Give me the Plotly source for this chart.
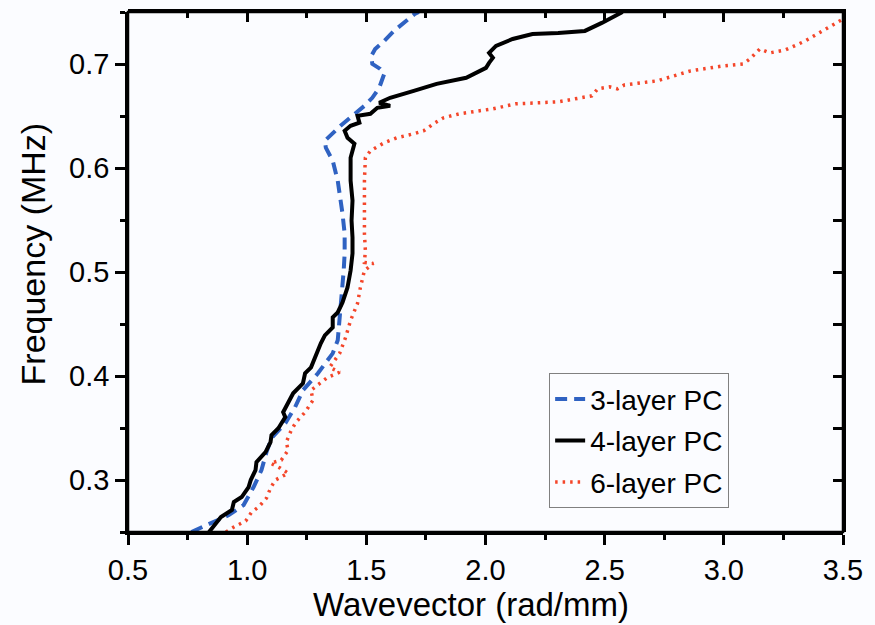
import plotly.graph_objects as go

# 3-layer PC (blue dashed)
k3 = [0.766, 0.853, 0.923, 0.985, 1.027, 1.060, 1.081, 1.102, 1.160, 1.201, 1.234, 1.297,
      1.359, 1.380, 1.388, 1.392, 1.400, 1.405, 1.409, 1.409, 1.400, 1.392, 1.380, 1.359,
      1.330, 1.326, 1.367, 1.392, 1.442, 1.492, 1.525, 1.554, 1.575, 1.558, 1.525, 1.521,
      1.537, 1.575, 1.616, 1.703, 1.720]
f3 = [0.250, 0.2586, 0.2663, 0.2759, 0.2932, 0.3095, 0.3268, 0.3402, 0.3546, 0.3700, 0.3863, 0.4026,
      0.4218, 0.4343, 0.4535, 0.4698, 0.4851, 0.5014, 0.5178, 0.5369, 0.5561, 0.5686, 0.5878, 0.6070,
      0.6195, 0.6262, 0.6358, 0.6406, 0.6502, 0.6598, 0.6675, 0.6771, 0.6905, 0.6953, 0.7001, 0.7078,
      0.7145, 0.7222, 0.7318, 0.7481, 0.750]

# 4-layer PC (black solid)
k4 = [0.840, 0.869, 0.890, 0.936, 0.944, 0.977, 1.006, 1.015, 1.035, 1.039, 1.077, 1.098,
      1.102, 1.131, 1.160, 1.151, 1.172, 1.193, 1.234, 1.243, 1.268, 1.284, 1.297, 1.309,
      1.326, 1.359, 1.359, 1.380, 1.400, 1.421, 1.434, 1.442, 1.442, 1.438, 1.442, 1.434,
      1.434, 1.450, 1.421, 1.409, 1.434, 1.471, 1.463, 1.517, 1.546, 1.600, 1.554, 1.600,
      1.699, 1.795, 1.919, 2.002, 2.015, 2.031, 2.015, 2.044, 2.114, 2.197, 2.305, 2.417,
      2.488, 2.575]
f4 = [0.250, 0.2586, 0.2644, 0.2711, 0.2788, 0.2836, 0.2932, 0.2999, 0.3095, 0.3172, 0.3268, 0.3364,
      0.3431, 0.3498, 0.3604, 0.3652, 0.3738, 0.3834, 0.3930, 0.4026, 0.4083, 0.4179, 0.4247, 0.4314,
      0.4391, 0.4467, 0.4563, 0.4611, 0.4707, 0.4851, 0.5014, 0.5178, 0.5331, 0.5494, 0.5686, 0.5878,
      0.6099, 0.6233, 0.6291, 0.6358, 0.6406, 0.6435, 0.6502, 0.6521, 0.6579, 0.6598, 0.6627, 0.6675,
      0.6742, 0.6809, 0.6867, 0.6963, 0.7011, 0.7059, 0.7107, 0.7174, 0.7241, 0.7289, 0.7298, 0.7318,
      0.7395, 0.750]

# 6-layer PC (red dotted)
k6 = [0.911, 0.944, 0.994, 1.019, 1.048, 1.081, 1.098, 1.118, 1.172, 1.139, 1.098, 1.143,
      1.172, 1.164, 1.185, 1.205, 1.243, 1.276, 1.268, 1.305, 1.338, 1.388, 1.346, 1.388,
      1.413, 1.434, 1.463, 1.475, 1.492, 1.529, 1.492, 1.496, 1.492, 1.492, 1.492, 1.496,
      1.517, 1.575, 1.629, 1.699, 1.741, 1.782, 1.824, 1.890, 2.031, 2.127, 2.239, 2.305,
      2.376, 2.446, 2.471, 2.521, 2.554, 2.583, 2.720, 2.861, 2.998, 3.081, 3.110, 3.151,
      3.193, 3.259, 3.342, 3.425, 3.500]
f6 = [0.250, 0.2548, 0.2606, 0.2692, 0.2740, 0.2826, 0.2922, 0.2999, 0.3066, 0.3114, 0.3162, 0.3191,
      0.3287, 0.3364, 0.3479, 0.3556, 0.3652, 0.3767, 0.3863, 0.3930, 0.3988, 0.4036, 0.4083, 0.4218,
      0.4371, 0.4535, 0.4698, 0.4851, 0.5014, 0.5082, 0.5092, 0.5206, 0.5369, 0.5590, 0.5878, 0.6099,
      0.6166, 0.6243, 0.6291, 0.6329, 0.6358, 0.6425, 0.6483, 0.6521, 0.6569, 0.6617, 0.6627, 0.6636,
      0.6665, 0.6694, 0.6761, 0.6780, 0.6761, 0.6799, 0.6838, 0.6934, 0.6982, 0.7001, 0.7049, 0.7145,
      0.7107, 0.7136, 0.7222, 0.7337, 0.7433, 0.7510]

names = ["3-layer PC", "4-layer PC", "6-layer PC"]
x_title = "Wavevector (rad/mm)"
y_title = "Frequency (MHz)"
x_range = [0.5, 3.5]
y_range = [0.25, 0.75]

FONT = "Arial, Liberation Sans, sans-serif"
BG = "#fbfcff"

fig = go.Figure()
fig.add_trace(go.Scatter(x=k3, y=f3, mode="lines", name=names[0], legendgroup="a",
                         line=dict(color="#2f62c2", width=4, dash="12px,7px")))
fig.add_trace(go.Scatter(x=k4, y=f4, mode="lines", name=names[1], legendgroup="b",
                         line=dict(color="#000000", width=4)))
fig.add_trace(go.Scatter(x=k6, y=f6, mode="lines", name=names[2], legendgroup="c",
                         line=dict(color="#f4462a", width=3.5, dash="2.5px,5px")))
# invisible helper trace on a second (transparent) subplot carrying the top / right axes
fig.add_trace(go.Scatter(x=[x_range[0]], y=[y_range[0]], xaxis="x2", yaxis="y2",
                         mode="markers", marker=dict(opacity=0), showlegend=False, hoverinfo="skip"))

axis_common = dict(showgrid=False, zeroline=False, showline=True, linecolor="black",
                   linewidth=2.5, tickcolor="black", tickwidth=2.5)

fig.update_layout(
    width=875, height=625,
    margin=dict(l=128, r=24, t=12, b=93),
    paper_bgcolor=BG, plot_bgcolor="rgba(0,0,0,0)",
    font=dict(family=FONT, color="black"),
    showlegend=True,
    legend=dict(x=0.589, y=0.305, xanchor="left", yanchor="top",
                bgcolor=BG, bordercolor="#808080", borderwidth=1,
                font=dict(size=28, family=FONT), tracegroupgap=2),
    xaxis=dict(range=x_range, dtick=0.5, tick0=0.5, tickformat=".1f", domain=[0, 1],
               ticks="outside", ticklen=10, tickfont=dict(size=29),
               minor=dict(dtick=0.25, ticks="outside", ticklen=5, tickcolor="black", tickwidth=2.5),
               **axis_common),
    yaxis=dict(range=y_range, dtick=0.1, tick0=0.3, tickformat=".1f", domain=[0, 1],
               ticks="outside", ticklen=10, tickfont=dict(size=29),
               minor=dict(dtick=0.05, ticks="outside", ticklen=5, tickcolor="black", tickwidth=2.5),
               **axis_common),
    xaxis2=dict(range=x_range, domain=[0, 1], side="top", anchor="y2", dtick=0.5, tick0=0.5,
                ticks="inside", ticklen=10, showticklabels=False,
                minor=dict(dtick=0.25, ticks="inside", ticklen=6, tickcolor="black", tickwidth=2.5),
                **axis_common),
    yaxis2=dict(range=y_range, domain=[0, 1], side="right", anchor="x2", dtick=0.1, tick0=0.3,
                ticks="inside", ticklen=10, showticklabels=False,
                minor=dict(dtick=0.05, ticks="inside", ticklen=10, tickcolor="black", tickwidth=2.5),
                **axis_common),
    shapes=[dict(type="rect", xref="paper", yref="paper", x0=0, x1=1, y0=0, y1=1,
                 line=dict(color="black", width=2.5), fillcolor="rgba(0,0,0,0)", layer="above")],
    annotations=[
        dict(text=x_title, xref="paper", yref="paper", x=0.48, y=-0.140,
             xanchor="center", yanchor="middle", showarrow=False, font=dict(size=33)),
        dict(text=y_title, xref="paper", yref="paper", x=-0.133, y=0.5355, textangle=-90,
             xanchor="center", yanchor="middle", showarrow=False, font=dict(size=34)),
    ],
)

fig.write_html("out.html")
